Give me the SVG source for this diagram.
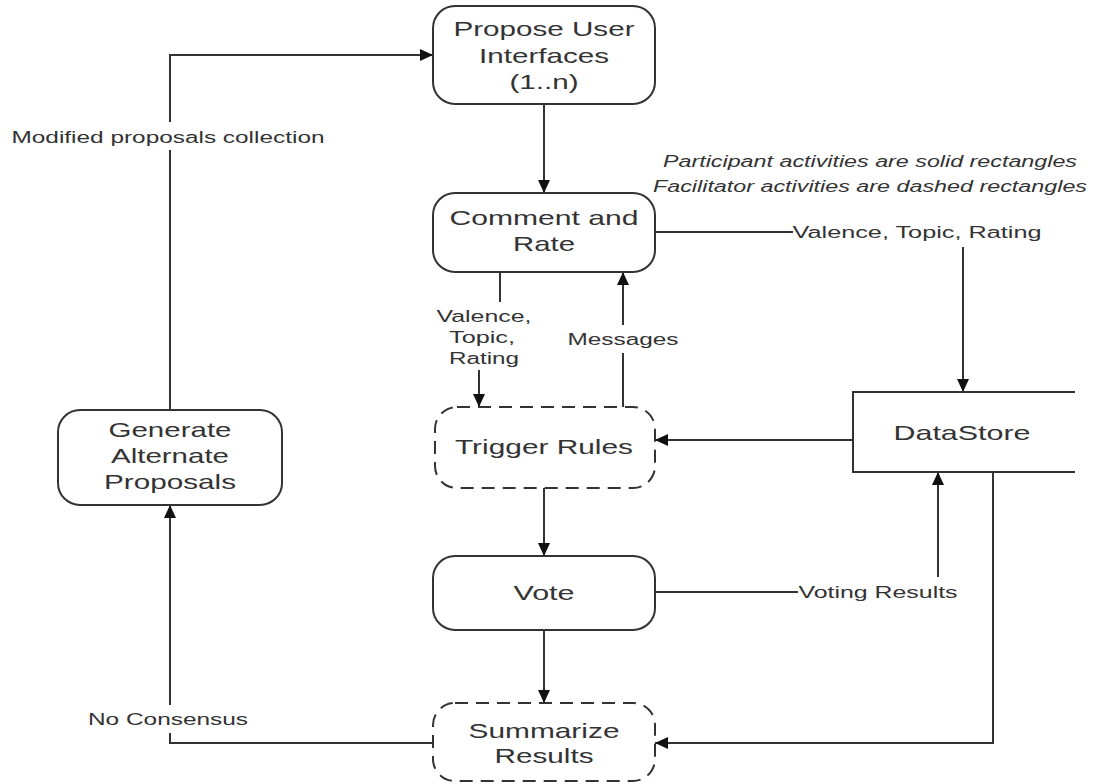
<svg xmlns="http://www.w3.org/2000/svg" width="1096" height="784" viewBox="0 0 1096 784">
<defs>
<style>
.box{fill:#fff;stroke:#333;stroke-width:2}
.dash{stroke-dasharray:13 8}
.ln{fill:none;stroke:#333;stroke-width:2}
.t{font-family:"Liberation Sans",Arial,sans-serif;font-size:21px;fill:#333;text-anchor:middle}
.l{font-family:"Liberation Sans",Arial,sans-serif;font-size:16px;fill:#333;text-anchor:middle}
.lg{font-family:"Liberation Sans",Arial,sans-serif;font-size:16px;font-style:italic;fill:#333;text-anchor:middle}
</style>
<marker id="ah" markerUnits="userSpaceOnUse" markerWidth="14" markerHeight="12" refX="13" refY="6" orient="auto">
<path d="M0,0 L13,6 L0,12 z" fill="#111"/>
</marker>
</defs>
<rect width="1096" height="784" fill="#fff"/>

<g id="connectors">
<!-- Propose -> Comment -->
<line class="ln" x1="544" y1="104" x2="544" y2="193" marker-end="url(#ah)"/>
<!-- Comment -> DataStore -->
<polyline class="ln" points="655,232 793,232"/>
<line class="ln" x1="963" y1="247" x2="963" y2="392" marker-end="url(#ah)"/>
<!-- Comment -> Trigger -->
<line class="ln" x1="500" y1="272" x2="500" y2="302"/>
<line class="ln" x1="479" y1="370" x2="479" y2="407" marker-end="url(#ah)"/>
<!-- Trigger -> Comment (Messages) -->
<line class="ln" x1="623" y1="407" x2="623" y2="353"/>
<line class="ln" x1="623" y1="325" x2="623" y2="272" marker-end="url(#ah)"/>
<!-- DataStore -> Trigger -->
<line class="ln" x1="853" y1="440" x2="655" y2="440" marker-end="url(#ah)"/>
<!-- Trigger -> Vote -->
<line class="ln" x1="544" y1="488" x2="544" y2="556" marker-end="url(#ah)"/>
<!-- Vote -> DataStore -->
<polyline class="ln" points="655,592 798,592"/>
<line class="ln" x1="938" y1="577" x2="938" y2="472" marker-end="url(#ah)"/>
<!-- Vote -> Summarize -->
<line class="ln" x1="544" y1="630" x2="544" y2="703" marker-end="url(#ah)"/>
<!-- DataStore -> Summarize -->
<polyline class="ln" points="993,472 993,743 655,743" marker-end="url(#ah)"/>
<!-- Summarize -> Generate -->
<polyline class="ln" points="433,743 170,743 170,733"/>
<line class="ln" x1="170" y1="705" x2="170" y2="505" marker-end="url(#ah)"/>
<!-- Generate -> Propose -->
<line class="ln" x1="170" y1="410" x2="170" y2="150"/>
<polyline class="ln" points="170,122 170,55 433,55" marker-end="url(#ah)"/>

<text class="l" x="168" y="143" textLength="313" lengthAdjust="spacingAndGlyphs">Modified proposals collection</text>
<text class="l" x="917" y="238" textLength="249" lengthAdjust="spacingAndGlyphs">Valence, Topic, Rating</text>
<text class="l" x="484" y="322" textLength="95" lengthAdjust="spacingAndGlyphs">Valence,</text>
<text class="l" x="482" y="343" textLength="66" lengthAdjust="spacingAndGlyphs">Topic,</text>
<text class="l" x="484" y="364" textLength="70" lengthAdjust="spacingAndGlyphs">Rating</text>
<text class="l" x="623" y="345" textLength="111" lengthAdjust="spacingAndGlyphs">Messages</text>
<text class="l" x="878" y="598" textLength="159" lengthAdjust="spacingAndGlyphs">Voting Results</text>
<text class="l" x="168" y="725" textLength="160" lengthAdjust="spacingAndGlyphs">No Consensus</text>
</g>

<g id="legend">
<text class="lg" x="870" y="167" textLength="414" lengthAdjust="spacingAndGlyphs">Participant activities are solid rectangles</text>
<text class="lg" x="870" y="192" textLength="434" lengthAdjust="spacingAndGlyphs">Facilitator activities are dashed rectangles</text>
</g>

<g id="propose">
<rect class="box" x="433" y="6" width="222" height="98" rx="22"/>
<text class="t" x="544" y="36" textLength="181" lengthAdjust="spacingAndGlyphs">Propose User</text>
<text class="t" x="544" y="63" textLength="130" lengthAdjust="spacingAndGlyphs">Interfaces</text>
<text class="t" x="544" y="89" textLength="69" lengthAdjust="spacingAndGlyphs">(1..n)</text>
</g>

<g id="comment">
<rect class="box" x="433" y="193" width="222" height="79" rx="22"/>
<text class="t" x="544" y="225" textLength="189" lengthAdjust="spacingAndGlyphs">Comment and</text>
<text class="t" x="544" y="251" textLength="62" lengthAdjust="spacingAndGlyphs">Rate</text>
</g>

<g id="trigger">
<rect class="box dash" x="435" y="407" width="220" height="81" rx="22"/>
<text class="t" x="544" y="454" textLength="178" lengthAdjust="spacingAndGlyphs">Trigger Rules</text>
</g>

<g id="datastore">
<path class="ln" d="M1075,392 L853,392 L853,472 L1075,472"/>
<text class="t" x="962" y="440" textLength="137" lengthAdjust="spacingAndGlyphs">DataStore</text>
</g>

<g id="vote">
<rect class="box" x="433" y="556" width="222" height="74" rx="22"/>
<text class="t" x="544" y="600" textLength="61" lengthAdjust="spacingAndGlyphs">Vote</text>
</g>

<g id="summarize">
<rect class="box dash" x="433" y="703" width="222" height="78" rx="22"/>
<text class="t" x="544" y="738" textLength="151" lengthAdjust="spacingAndGlyphs">Summarize</text>
<text class="t" x="544" y="763" textLength="99" lengthAdjust="spacingAndGlyphs">Results</text>
</g>

<g id="generate">
<rect class="box" x="58" y="410" width="224" height="95" rx="22"/>
<text class="t" x="170" y="437" textLength="123" lengthAdjust="spacingAndGlyphs">Generate</text>
<text class="t" x="170" y="463" textLength="118" lengthAdjust="spacingAndGlyphs">Alternate</text>
<text class="t" x="170" y="489" textLength="132" lengthAdjust="spacingAndGlyphs">Proposals</text>
</g>
</svg>
